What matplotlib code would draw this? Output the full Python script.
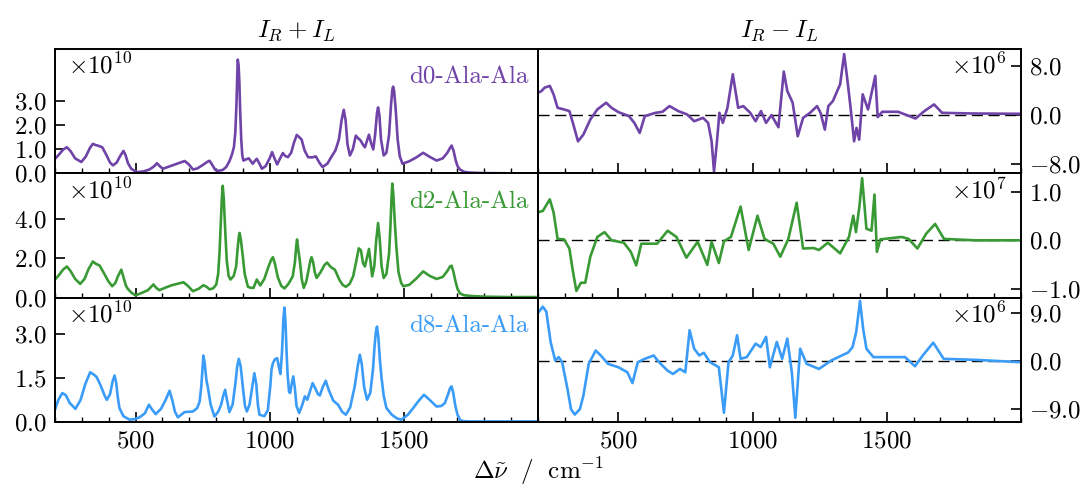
import matplotlib
matplotlib.use('Agg')
import matplotlib.pyplot as plt
from matplotlib.ticker import FuncFormatter, MultipleLocator

plt.rcParams['font.family'] = ['cmr10', 'DejaVu Serif']
plt.rcParams['mathtext.fontset'] = 'cm'
plt.rcParams['axes.unicode_minus'] = False

# I_R + I_L spectra, values in units of 1e10
d0_sum_x = [200, 215, 230, 244, 258, 275, 298, 315, 330, 341, 352, 362, 376, 392, 405, 416, 430, 442, 455, 463,
            472, 484, 505, 530, 552, 568, 580, 590, 602, 630, 660, 683, 698, 714, 730, 750, 768, 776, 786, 797,
            807, 825, 838, 850, 860, 867, 872, 876, 879, 881, 884, 887, 890, 894, 898, 902, 912, 922, 930, 937,
            945, 952, 962, 971, 985, 1000, 1009, 1018, 1028, 1038, 1049, 1058, 1068, 1080, 1090, 1101, 1110, 1119,
            1130, 1143, 1158, 1172, 1185, 1197, 1215, 1232, 1245, 1258, 1268, 1276, 1283, 1290, 1299, 1310, 1321,
            1330, 1339, 1348, 1355, 1363, 1370, 1378, 1386, 1393, 1400, 1404, 1409, 1415, 1425, 1435, 1445, 1452,
            1457, 1460, 1464, 1470, 1477, 1485, 1495, 1520, 1545, 1572, 1597, 1622, 1645, 1662, 1672, 1678, 1685,
            1693, 1700, 1709, 1725, 1746, 1800, 1900, 2000]
d0_sum_y = [0.60, 0.78, 0.98, 1.08, 0.92, 0.62, 0.47, 0.70, 1.05, 1.22, 1.17, 1.14, 1.08, 0.75, 0.45, 0.33, 0.45,
            0.70, 0.93, 0.75, 0.42, 0.19, 0.05, 0.08, 0.16, 0.28, 0.42, 0.30, 0.19, 0.30, 0.42, 0.51, 0.38, 0.16,
            0.20, 0.34, 0.48, 0.52, 0.35, 0.15, 0.10, 0.14, 0.26, 0.50, 0.80, 1.10, 1.70, 2.80, 4.00, 4.71, 4.50,
            3.80, 2.60, 1.40, 0.75, 0.53, 0.58, 0.62, 0.50, 0.40, 0.52, 0.60, 0.40, 0.19, 0.30, 0.62, 0.88, 0.62,
            0.37, 0.60, 0.84, 0.72, 0.67, 0.85, 1.25, 1.59, 1.50, 1.40, 0.95, 0.67, 0.66, 0.70, 0.45, 0.26, 0.40,
            0.72, 0.95, 1.40, 2.20, 2.63, 2.20, 1.20, 0.74, 1.00, 1.56, 1.45, 1.36, 1.18, 1.08, 1.35, 1.60, 1.25,
            0.99, 1.60, 2.50, 2.73, 2.40, 1.40, 0.74, 0.85, 1.60, 2.80, 3.45, 3.59, 3.40, 2.60, 1.40, 0.70, 0.40,
            0.50, 0.65, 0.85, 0.68, 0.53, 0.62, 0.85, 1.05, 1.15, 0.95, 0.55, 0.30, 0.16, 0.06, 0.03, 0.01, 0.0, 0.0]

d2_sum_x = [200, 215, 230, 244, 258, 275, 294, 310, 325, 341, 352, 366, 380, 398, 413, 425, 435, 447, 456, 464,
            471, 485, 500, 520, 546, 558, 567, 577, 589, 610, 633, 655, 679, 695, 714, 735, 753, 765, 776, 790,
            801, 808, 813, 818, 822, 825, 829, 834, 840, 847, 854, 866, 875, 880, 885, 888, 893, 900, 907, 919,
            930, 940, 947, 952, 958, 965, 980, 995, 1005, 1012, 1020, 1030, 1043, 1055, 1070, 1086, 1094, 1099,
            1102, 1106, 1112, 1120, 1127, 1136, 1145, 1152, 1156, 1162, 1168, 1175, 1190, 1204, 1214, 1228, 1243,
            1260, 1272, 1284, 1298, 1311, 1322, 1332, 1340, 1348, 1355, 1362, 1370, 1376, 1382, 1390, 1397, 1404,
            1410, 1417, 1425, 1435, 1445, 1450, 1454, 1457, 1461, 1466, 1472, 1480, 1490, 1498, 1520, 1545, 1572,
            1597, 1622, 1645, 1662, 1672, 1678, 1685, 1693, 1700, 1709, 1725, 1758, 1800, 1900, 2000]
d2_sum_y = [0.92, 1.15, 1.42, 1.58, 1.35, 0.95, 0.70, 0.95, 1.45, 1.83, 1.72, 1.63, 1.30, 0.85, 0.58, 0.75, 1.10,
            1.42, 1.00, 0.62, 0.45, 0.25, 0.12, 0.22, 0.38, 0.55, 0.67, 0.50, 0.38, 0.50, 0.62, 0.70, 0.78, 0.60,
            0.33, 0.45, 0.63, 0.55, 0.42, 0.48, 0.67, 1.20, 2.25, 3.80, 5.10, 5.67, 5.00, 3.50, 1.90, 1.10, 0.92,
            1.10, 1.58, 2.40, 3.10, 3.28, 2.90, 2.08, 1.20, 0.55, 0.50, 0.50, 0.75, 0.92, 0.78, 0.62, 0.95, 1.55,
            1.90, 2.05, 1.70, 1.05, 0.60, 0.47, 0.70, 1.08, 1.80, 2.60, 2.95, 2.50, 1.92, 0.90, 0.50, 0.80, 1.40,
            1.90, 2.05, 1.80, 1.30, 1.00, 1.30, 1.65, 1.78, 1.55, 1.42, 0.90, 0.65, 0.55, 0.70, 1.08, 1.80, 2.50,
            2.40, 1.75, 1.58, 2.00, 2.47, 1.80, 1.08, 1.60, 2.90, 3.78, 3.00, 1.60, 1.00, 1.20, 2.25, 3.60, 5.00,
            5.78, 5.20, 3.90, 2.60, 1.30, 0.75, 0.58, 0.65, 0.95, 1.33, 1.10, 0.95, 1.05, 1.35, 1.58, 1.62, 1.30,
            0.80, 0.45, 0.22, 0.12, 0.08, 0.05, 0.03, 0.03]

d8_sum_x = [200, 212, 227, 240, 255, 276, 295, 313, 331, 345, 355, 370, 385, 393, 405, 415, 422, 428, 434, 440,
            455, 478, 497, 515, 535, 550, 560, 575, 595, 612, 627, 637, 647, 658, 683, 714, 730, 739, 745, 750,
            753, 758, 764, 770, 780, 794, 808, 819, 827, 834, 840, 850, 862, 872, 879, 885, 892, 900, 908, 915,
            925, 935, 943, 950, 956, 962, 980, 993, 1002, 1007, 1012, 1020, 1028, 1034, 1040, 1046, 1051, 1055,
            1059, 1063, 1067, 1072, 1076, 1082, 1088, 1094, 1100, 1110, 1122, 1131, 1140, 1150, 1160, 1170, 1180,
            1187, 1198, 1209, 1220, 1237, 1255, 1270, 1284, 1300, 1317, 1328, 1336, 1343, 1352, 1363, 1375, 1385,
            1391, 1396, 1400, 1405, 1411, 1417, 1425, 1435, 1455, 1475, 1491, 1515, 1535, 1555, 1575, 1597, 1622,
            1640, 1653, 1665, 1672, 1678, 1684, 1692, 1700, 1709, 1720, 1746, 1850, 2000]
d8_sum_y = [0.42, 0.75, 0.99, 0.92, 0.65, 0.45, 0.75, 1.30, 1.70, 1.62, 1.54, 1.25, 0.90, 0.76, 0.95, 1.40, 1.59,
            1.35, 0.85, 0.48, 0.20, 0.08, 0.10, 0.16, 0.30, 0.59, 0.45, 0.27, 0.45, 0.75, 1.07, 0.75, 0.35, 0.16,
            0.34, 0.36, 0.48, 0.70, 1.20, 1.90, 2.27, 2.00, 1.45, 1.16, 0.60, 0.19, 0.35, 0.59, 0.90, 1.10, 0.80,
            0.34, 0.60, 1.30, 1.90, 2.16, 1.90, 1.20, 0.55, 0.36, 0.60, 1.20, 1.67, 1.30, 0.60, 0.25, 0.20, 0.40,
            1.20, 1.80, 2.01, 2.15, 2.18, 1.90, 1.64, 2.40, 3.50, 3.91, 3.40, 2.40, 1.60, 1.05, 0.99, 1.30, 1.56,
            1.15, 0.55, 0.31, 0.60, 0.88, 0.76, 1.05, 1.33, 1.15, 0.95, 0.91, 1.20, 1.41, 1.10, 0.73, 0.59, 0.35,
            0.25, 0.50, 1.22, 1.90, 2.30, 2.00, 1.20, 0.76, 1.00, 1.80, 2.60, 3.10, 3.26, 2.90, 2.10, 1.50, 0.90,
            0.48, 0.25, 0.12, 0.08, 0.25, 0.48, 0.72, 0.93, 0.75, 0.53, 0.55, 0.65, 0.95, 1.15, 1.22, 1.00, 0.55,
            0.25, 0.08, 0.03, 0.02, 0.02, 0.02]

# I_R - I_L spectra (d0 and d8 in 1e6, d2 in 1e7)
d0_diff_x = [199, 212, 225, 244, 258, 273, 297, 317, 330, 349, 369, 395, 421, 454, 474, 500, 539, 559, 579, 598,
             638, 664, 690, 723, 756, 782, 815, 834, 847, 856, 867, 876, 889, 906, 926, 946, 965, 991, 1011, 1031,
             1050, 1070, 1096, 1116, 1129, 1149, 1168, 1188, 1214, 1240, 1253, 1269, 1282, 1299, 1326, 1341, 1352,
             1365, 1378, 1387, 1397, 1410, 1430, 1457, 1466, 1483, 1542, 1607, 1640, 1676, 1706, 1817, 2000]
d0_diff_y = [3.67, 3.90, 4.50, 4.77, 3.40, 1.20, 0.93, 0.66, -1.26, -4.27, -3.18, -0.71, 0.93, 2.03, 1.20, 0.49,
             -0.16, -1.26, -2.90, -0.16, 0.38, 0.55, 1.48, 0.66, 0.11, -0.99, -0.44, -1.26, -4.27, -9.20, -4.27,
             0.38, -1.26, 1.20, 6.68, 1.20, 1.48, 0.38, -0.99, 0.66, -1.26, 0.00, -1.97, 7.12, 3.95, 2.03, -3.45,
             -0.44, 0.38, 1.48, 0.38, -2.36, 1.48, 2.30, 5.04, 9.97, 6.14, 1.20, -4.27, -2.08, -4.00, 3.40, 0.93,
             6.41, -0.33, 0.55, 0.55, -0.55, 0.66, 1.75, 0.38, 0.27, 0.22]

d2_diff_x = [199, 218, 244, 258, 273, 297, 317, 330, 343, 360, 376, 395, 421, 448, 474, 520, 546, 566, 585, 644,
             683, 716, 753, 795, 831, 847, 874, 893, 919, 955, 985, 1018, 1044, 1077, 1103, 1133, 1164, 1188,
             1227, 1247, 1280, 1326, 1359, 1375, 1385, 1398, 1408, 1424, 1443, 1454, 1463, 1476, 1555, 1581,
             1614, 1647, 1680, 1713, 1830, 2000]
d2_diff_y = [0.58, 0.61, 0.85, 0.58, 0.03, 0.02, -0.17, -0.64, -1.05, -0.88, -0.88, -0.34, 0.07, 0.17, 0.00, -0.05,
             -0.24, -0.52, -0.07, -0.07, 0.20, 0.07, -0.36, -0.03, -0.51, -0.03, -0.47, -0.02, 0.07, 0.70, -0.20,
             0.51, 0.03, -0.07, -0.34, 0.03, 0.78, -0.17, -0.16, -0.20, -0.05, -0.27, 0.07, 0.51, 0.17, 0.71, 1.29,
             0.24, 0.20, 0.95, -0.24, 0.02, 0.07, 0.03, -0.17, 0.14, 0.34, 0.03, 0.00, 0.00]

d8_diff_x = [199, 218, 231, 247, 264, 277, 290, 310, 323, 337, 356, 369, 389, 415, 434, 461, 500, 533, 552, 572,
             598, 631, 651, 683, 703, 729, 749, 765, 782, 801, 818, 841, 874, 893, 910, 926, 942, 955, 978, 1011,
             1030, 1050, 1064, 1090, 1110, 1129, 1146, 1159, 1177, 1201, 1247, 1293, 1332, 1355, 1372, 1386, 1400,
             1412, 1424, 1450, 1568, 1605, 1634, 1673, 1712, 1830, 2000]
d8_diff_y = [9.0, 10.2, 9.3, 3.6, 0.13, 0.76, -0.19, -5.24, -9.0, -10.0, -9.0, -6.5, -0.5, 2.0, 1.07, -0.5, -1.14,
             -2.08, -4.1, -0.19, 0.44, 1.07, -0.19, -1.77, -2.4, -1.45, -2.08, 5.8, 2.34, 1.07, 1.58, -0.19, -1.14,
             -9.66, -0.19, 1.07, 4.86, 0.44, 0.76, 3.28, 2.65, 4.55, -1.14, 3.6, 0.44, 4.23, -2.08, -10.6, 2.34,
             -0.5, -1.45, 0.13, 1.07, 1.6, 2.6, 5.5, 11.3, 6.0, 2.34, 0.76, 0.76, -0.95, 1.07, 3.47, 0.44, 0.25,
             -0.19]

labels = ['d0-Ala-Ala', 'd2-Ala-Ala', 'd8-Ala-Ala']
colors = ['#6f43a7', '#399a35', '#3a9cf7']
sum_scale = [r'$\times10^{10}$'] * 3
diff_scale = [r'$\times10^{6}$', r'$\times10^{7}$', r'$\times10^{6}$']
sum_ticks = [[0, 1, 2, 3], [0, 2, 4], [0, 1.5, 3]]
diff_ticks = [[-8, 0, 8], [-1, 0, 1], [-9, 0, 9]]
sum_ylim = [(0, 5.15), (0, 6.3), (0, 4.25)]
diff_ylim = [(-9.5, 10.8), (-1.19, 1.39), (-11.4, 11.9)]

sums = [(d0_sum_x, d0_sum_y), (d2_sum_x, d2_sum_y), (d8_sum_x, d8_sum_y)]
diffs = [(d0_diff_x, d0_diff_y), (d2_diff_x, d2_diff_y), (d8_diff_x, d8_diff_y)]

fs = 18
fmt = FuncFormatter(lambda v, p: f'${v:.1f}$')

fig, axes = plt.subplots(3, 2, figsize=(10.85, 4.88), dpi=100, sharex=True)
fig.subplots_adjust(left=0.0507, right=0.941, top=0.8996, bottom=0.1352, wspace=0, hspace=0)

for i in range(3):
    axl, axr = axes[i]
    axl.plot(*sums[i], color=colors[i], lw=1.9)
    axl.set_ylim(*sum_ylim[i])
    axl.set_yticks(sum_ticks[i])
    axl.text(0.027, 0.80, sum_scale[i], transform=axl.transAxes, fontsize=fs, ha='left', va='baseline')
    axl.text(0.98, 0.72, labels[i], transform=axl.transAxes, fontsize=fs, color=colors[i],
             ha='right', va='baseline')

    axr.axhline(0, color='k', lw=1.0, ls=(0, (8, 4)), zorder=1)
    axr.plot(*diffs[i], color=colors[i], lw=1.9, zorder=2)
    axr.set_ylim(*diff_ylim[i])
    axr.set_yticks(diff_ticks[i])
    axr.yaxis.tick_right()
    axr.text(0.971, 0.80, diff_scale[i], transform=axr.transAxes, fontsize=fs, ha='right', va='baseline')

    for ax in (axl, axr):
        ax.yaxis.set_major_formatter(fmt)
        ax.tick_params(axis='both', which='major', direction='in', length=7, width=1.2,
                       labelsize=fs, pad=6)
        ax.tick_params(axis='x', which='minor', direction='in', length=3.5, width=1.0)
        for s in ax.spines.values():
            s.set_linewidth(1.4)

for ax in axes[-1]:
    ax.set_xlim(200, 2000)
    ax.set_xticks([500, 1000, 1500])
    ax.xaxis.set_minor_locator(MultipleLocator(100))
    ax.xaxis.set_major_formatter(FuncFormatter(lambda v, p: f'${v:.0f}$'))

axes[0, 0].set_title(r'$I_R + I_L$', fontsize=fs, pad=9)
axes[0, 1].set_title(r'$I_R - I_L$', fontsize=fs, pad=9)
fig.text(0.496, 0.035, r'$\Delta\tilde{\nu}\ \ /\ \ \mathrm{cm}^{-1}$', fontsize=fs, ha='center', va='center')

plt.savefig('out.png', dpi=100)
plt.close()
